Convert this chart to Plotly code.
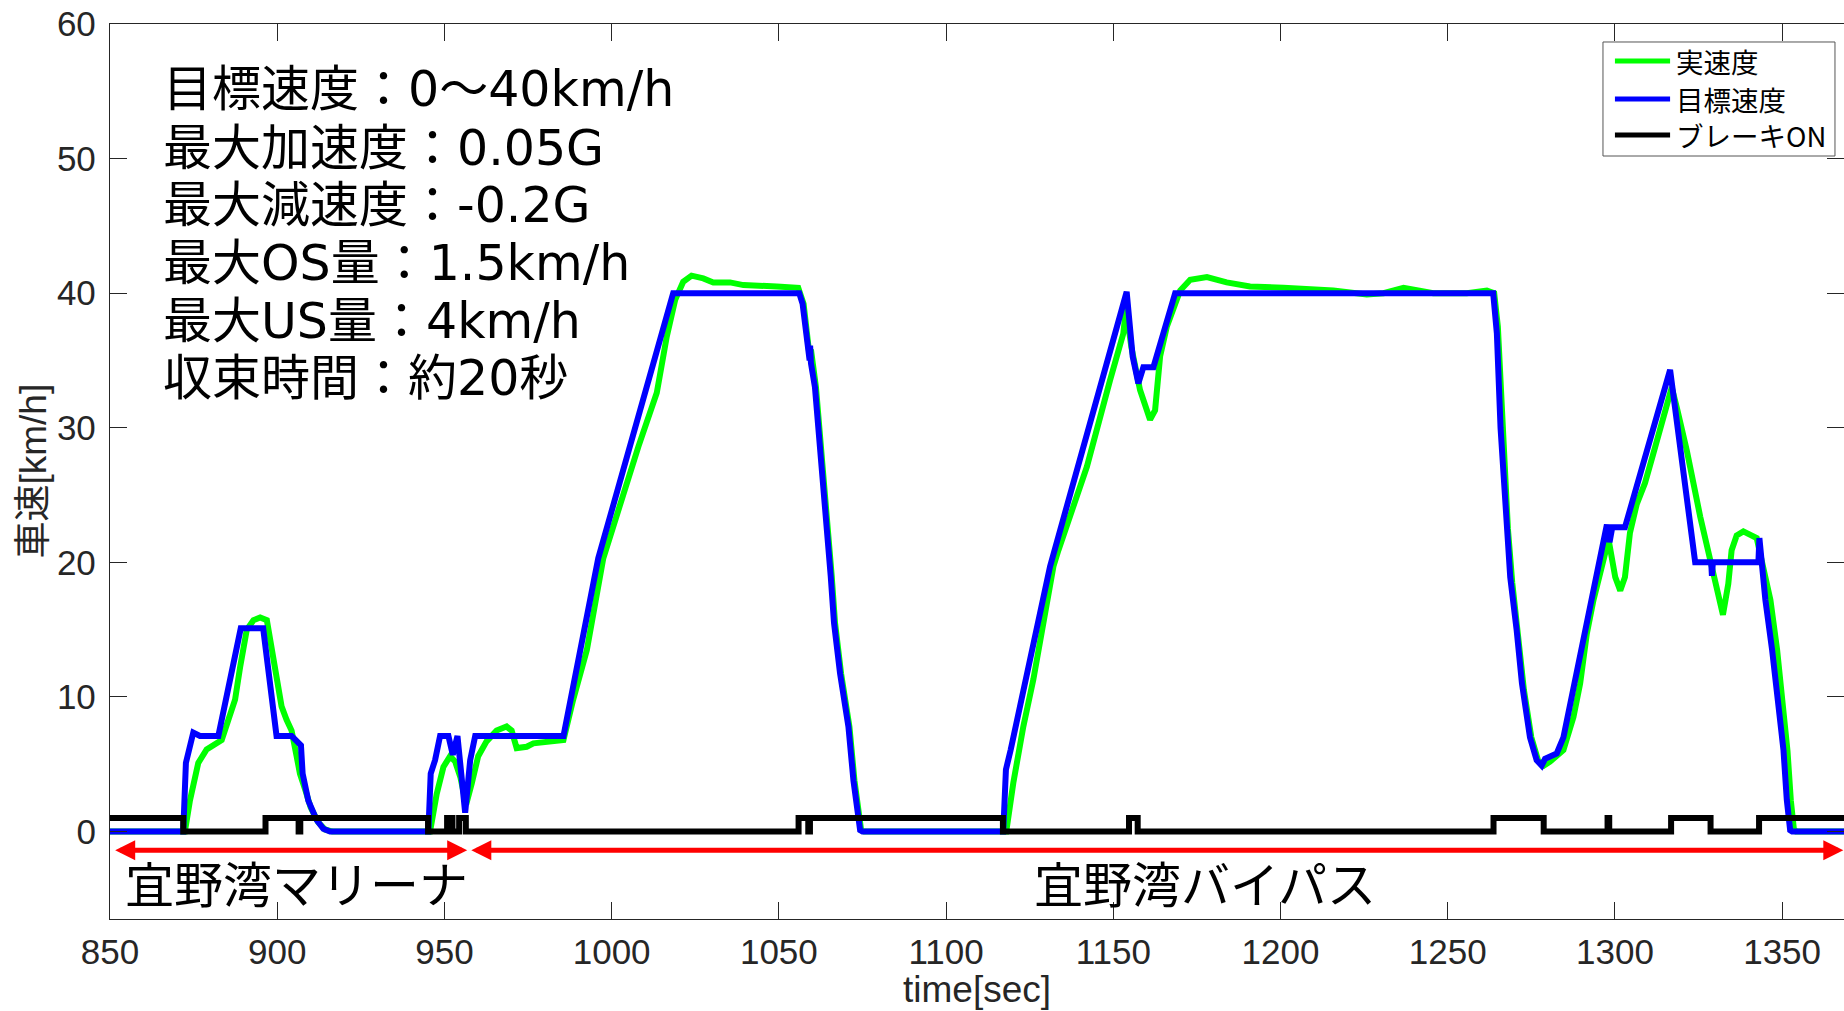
import plotly.graph_objects as go

# ---------------- data ----------------
t_actual = [850, 872.4, 873.9, 875.4, 876.4, 878.9, 881.4, 883.4, 885.4, 887.4, 888.9, 890.9,
            892.9, 894.9, 896.9, 898.4, 899.8, 901.3, 902.8, 904.3, 905.8, 906.8, 908.5, 910.0,
            912.2, 914.3, 916.5, 945.7, 947.7, 949.7, 951.7, 953.2, 954.8, 956.5, 958.2, 960.1,
            962.6, 965.6, 968.6, 970.1, 971.6, 974.6, 976.6, 981.6, 985.6, 988.5, 992.6, 997.5,
            1004.0, 1008.0, 1013.5, 1016.5, 1019.0, 1021.4, 1023.9, 1027.4, 1030.4, 1035.4,
            1039.4, 1044.4, 1049.4, 1055.8, 1057.4, 1059.1, 1059.6, 1061.1, 1062.6, 1064.6,
            1065.8, 1066.8, 1068.6, 1071.1, 1072.6, 1074.6, 1075.5, 1118.0, 1120.1, 1123.1,
            1126.1, 1129.6, 1132.1, 1133.6, 1142.1, 1149.0, 1153.0, 1153.8, 1155.4, 1158.0,
            1161.0, 1162.5, 1164.0, 1166.0, 1170.0, 1173.0, 1178.0, 1183.9, 1190.9, 1200.9,
            1215.8, 1225.8, 1230.8, 1236.8, 1245.7, 1255.7, 1261.7, 1263.9, 1265.0, 1266.0,
            1267.0, 1268.0, 1269.3, 1271.0, 1272.8, 1275.0, 1277.0, 1278.8, 1280.6, 1284.6,
            1287.6, 1289.6, 1291.6, 1293.6, 1295.6, 1298.1, 1300.1, 1301.6, 1303.0, 1304.5,
            1306.5, 1309.0, 1311.5, 1316.0, 1317.0, 1318.5, 1320.5, 1321.5, 1325.5, 1328.5,
            1330.5, 1332.3, 1333.9, 1334.9, 1336.4, 1338.4, 1342.4, 1343.6, 1346.5, 1348.5,
            1350.3, 1351.6, 1352.6, 1353.5, 1354.2, 1368.5]
v_actual = [0, 0, 2.3, 3.8, 5.1, 6.1, 6.5, 6.8, 8.3, 9.8, 12.2, 15.0,
            15.7, 15.9, 15.7, 13.5, 12.0, 9.3, 8.3, 7.5, 5.6, 4.3, 3.0, 1.8,
            0.7, 0.15, 0, 0, 2.8, 4.8, 5.6, 5.2, 4.0, 2.0, 3.6, 5.6,
            6.7, 7.5, 7.8, 7.5, 6.2, 6.3, 6.55, 6.75, 6.8, 9.8, 13.5, 20.3,
            25.6, 28.6, 32.6, 36.8, 39.5, 40.85, 41.3, 41.1, 40.8, 40.8,
            40.6, 40.5, 40.5, 40.4, 39.2, 35.5, 35.8, 33.0, 28.8, 22.9,
            19.0, 15.5, 11.75, 7.8, 3.8, 0.1, 0, 0, 3.6, 7.8,
            11.3, 16.2, 19.7, 20.9, 27.1, 33.5, 37.0, 38.9, 36.0, 32.8,
            30.6, 31.3, 35.3, 37.5, 40.2, 41.0, 41.2, 40.8, 40.5, 40.4,
            40.2, 39.9, 40.0, 40.4, 40.0, 40.0, 40.2, 40.0, 37.5, 32.5,
            27.5, 22.5, 18.5, 14.5, 10.5, 7.0, 5.3, 4.9, 5.2, 6.05,
            8.5, 11.0, 14.7, 17.2, 19.4, 21.7, 18.9, 17.9, 18.9, 22.2,
            24.3, 25.9, 28.1, 32.1, 33.0, 31.5, 29.6, 28.3, 23.4, 20.2,
            17.7, 16.1, 18.4, 20.9, 22.0, 22.3, 21.8, 20.5, 17.2, 13.5,
            9.5, 6.0, 2.3, 0.2, 0, 0]

t_target = [850, 871.9, 872.7, 874.9, 876.9, 882.4, 889.1, 895.8, 899.8, 904.3, 907.1, 907.6,
            909.3, 911.8, 913.8, 915.8, 945.2, 945.9, 947.2, 948.7, 951.2, 952.5, 953.9, 956.2,
            957.7, 959.2, 985.6, 996.0, 1018.4, 1056.1, 1057.1, 1058.8, 1059.2, 1059.35, 1059.6,
            1060.8, 1062.3, 1064.3, 1065.5, 1066.5, 1068.3, 1070.8, 1072.3, 1074.3, 1075.0,
            1117.1, 1117.9, 1119.3, 1131.1, 1154.0, 1155.0, 1155.8, 1157.5, 1159.0, 1162.0,
            1168.5, 1263.6, 1264.7, 1265.8, 1267.3, 1268.7, 1270.6, 1272.2, 1274.6, 1276.6,
            1278.1, 1278.6, 1279.1, 1282.6, 1284.6, 1297.6, 1298.4, 1299.2, 1303.0, 1316.5,
            1319.5, 1324.0, 1328.8, 1329.0, 1329.3, 1342.9, 1343.2, 1345.0, 1347.0, 1348.9,
            1350.4, 1351.4, 1352.4, 1353.0, 1368.5]
v_target = [0, 0, 5.1, 7.35, 7.1, 7.1, 15.1, 15.1, 7.1, 7.1, 6.4, 4.3,
            2.3, 0.85, 0.2, 0, 0, 4.3, 5.3, 7.1, 7.1, 5.7, 7.1, 1.4,
            5.3, 7.1, 7.1, 20.3, 40.0, 40.0, 39.2, 35.5, 35.0, 36.1, 34.8,
            33.0, 28.8, 22.9, 19.0, 15.5, 11.75, 7.8, 3.8, 0.1, 0,
            0, 4.6, 6.05, 19.7, 40.1, 37.3, 35.3, 33.3, 34.5, 34.5,
            40.0, 40.0, 37.0, 30.0, 23.4, 18.9, 15.0, 11.0, 7.0, 5.3,
            4.9, 5.2, 5.4, 5.8, 7.0, 22.8, 21.5, 22.6, 22.6, 34.3,
            28.3, 20.0, 20.0, 19.0, 20.0, 20.0, 21.8, 17.2, 13.5, 9.5,
            6.05, 2.35, 0.1, 0, 0]

t_brake = [850, 871.9, 896.5, 906.4, 906.9, 945.1, 950.8, 952.4, 954.4, 956.4, 1055.9, 1058.8,
           1059.3, 1117.0, 1154.7, 1157.3, 1263.7, 1278.7, 1297.8, 1298.3, 1316.8, 1328.6,
           1343.1, 1368.5]
brake_on = [1, 0, 1, 0, 1, 0, 1, 0, 1, 0, 1, 0, 1, 0, 1, 0, 1, 0, 1, 0, 1, 0, 1, 1]

series_names = ["実速度", "目標速度", "ブレーキON"]
series_colors = ["#00FF00", "#0000FF", "#000000"]
x_ticks = [850, 900, 950, 1000, 1050, 1100, 1150, 1200, 1250, 1300, 1350]
y_ticks = [0, 10, 20, 30, 40, 50, 60]

info_lines = ["目標速度：0〜40km/h", "最大加速度：0.05G", "最大減速度：-0.2G",
              "最大OS量：1.5km/h", "最大US量：4km/h", "収束時間：約20秒"]
info_y = [55.1, 50.78, 46.54, 42.23, 37.93, 33.69]
sections = ["宜野湾マリーナ", "宜野湾バイパス"]
section_start = [851.1, 957.6]
section_end = [956.8, 1368.3]
section_label_x = [905.9, 1177.5]

# ---------------- figure ----------------
NUM_FONT = "Liberation Sans Narrow, Liberation Sans, Arial, sans-serif"
JP_FONT = "Noto Sans CJK JP, Noto Sans, sans-serif"
INFO_FONT = "DejaVu Sans, Noto Sans CJK JP, sans-serif"
AX = "#262626"

fig = go.Figure()
fig.add_trace(go.Scatter(x=t_actual, y=v_actual, mode="lines", name=series_names[0],
                         line=dict(color=series_colors[0], width=6)))
fig.add_trace(go.Scatter(x=t_target, y=v_target, mode="lines", name=series_names[1],
                         line=dict(color=series_colors[1], width=6)))
fig.add_trace(go.Scatter(x=t_brake, y=brake_on, mode="lines", name=series_names[2],
                         line=dict(color=series_colors[2], width=6, shape="hv")))

annotations = []
for txt, yy in zip(info_lines, info_y):
    annotations.append(dict(x=865.2, y=yy, xref="x", yref="y", text=txt, showarrow=False,
                            xanchor="left", yanchor="middle",
                            font=dict(family=INFO_FONT, size=49, color="black")))
for s0, s1 in zip(section_start, section_end):
    annotations.append(dict(x=s1, y=-1.4, ax=s0, ay=-1.4, xref="x", yref="y", axref="x", ayref="y",
                            text="", showarrow=True, arrowside="end+start",
                            arrowhead=2, startarrowhead=2, arrowsize=0.8, startarrowsize=0.8,
                            arrowwidth=5, arrowcolor="#FF0000", standoff=0, startstandoff=0))
for lab, lx in zip(sections, section_label_x):
    annotations.append(dict(x=lx, y=-3.75, xref="x", yref="y", text=lab, showarrow=False,
                            xanchor="center", yanchor="middle",
                            font=dict(family=JP_FONT, size=49, color="black")))
annotations.append(dict(x=0.5, y=-0.0793, xref="paper", yref="paper", text="time[sec]",
                        showarrow=False, xanchor="center", yanchor="middle",
                        font=dict(family=NUM_FONT, size=37, color=AX)))
annotations.append(dict(x=-0.0444, y=0.5, xref="paper", yref="paper", text="車速[km/h]",
                        showarrow=False, xanchor="center", yanchor="middle", textangle=-90,
                        font=dict(family="Liberation Sans, Noto Sans CJK JP, sans-serif",
                                  size=37, color=AX)))

# legend (box, line samples and labels), placed in the upper-right corner
shapes = [dict(type="rect", xref="paper", yref="paper", x0=0.8610, x1=0.9948, y0=0.8525, y1=0.9799,
               line=dict(color="#555555", width=1), fillcolor="white", layer="above")]
legend_y = [0.9587, 0.9162, 0.8760]
for name, col, ly in zip(series_names, series_colors, legend_y):
    shapes.append(dict(type="line", xref="paper", yref="paper", x0=0.8679, x1=0.8997, y0=ly, y1=ly,
                       line=dict(color=col, width=5), layer="above"))
    annotations.append(dict(x=0.9025, y=ly, xref="paper", yref="paper", text=name, showarrow=False,
                            xanchor="left", yanchor="middle", borderpad=0,
                            font=dict(family=JP_FONT, size=27.5, color="black")))

fig.update_layout(
    width=1844, height=1011,
    margin=dict(l=110, r=0, t=24, b=92),
    paper_bgcolor="white", plot_bgcolor="white",
    showlegend=False,
    annotations=annotations,
    shapes=shapes,
)
fig.update_xaxes(range=[850, 1368.5], tickvals=x_ticks, ticks="inside", ticklen=17,
                 tickwidth=1.3, tickcolor=AX, showline=True, linecolor=AX, linewidth=1.3,
                 mirror="ticks", showgrid=False, zeroline=False, ticklabelstandoff=2,
                 tickfont=dict(family=NUM_FONT, size=35, color=AX))
fig.update_yaxes(range=[-6.5, 60], tickvals=y_ticks, ticks="inside", ticklen=17,
                 tickwidth=1.3, tickcolor=AX, showline=True, linecolor=AX, linewidth=1.3,
                 mirror="ticks", showgrid=False, zeroline=False, ticklabelstandoff=6,
                 tickfont=dict(family=NUM_FONT, size=35, color=AX))

fig.write_html("out.html")
